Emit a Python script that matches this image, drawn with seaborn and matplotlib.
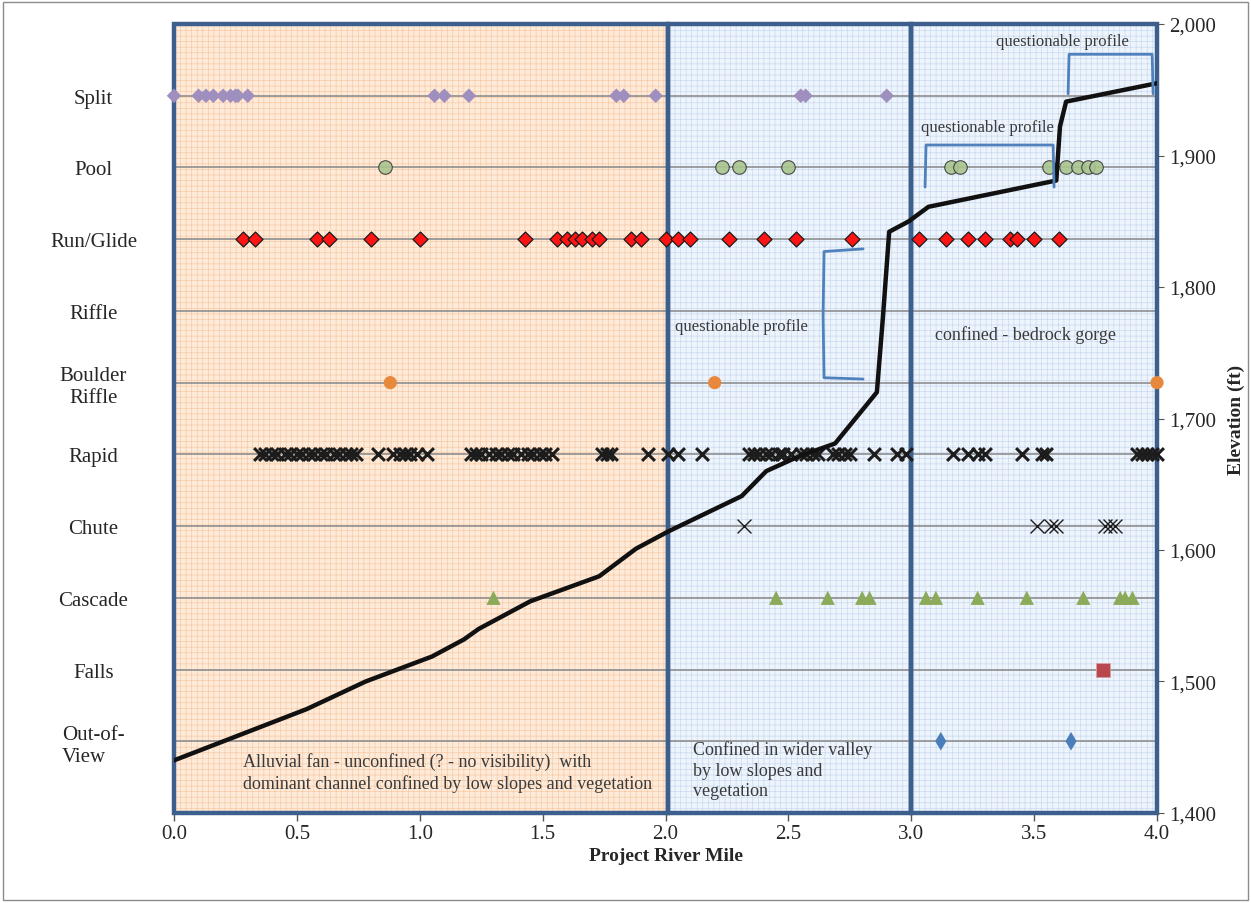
import matplotlib
matplotlib.use("Agg")
import matplotlib.pyplot as plt
from matplotlib.patches import Rectangle
from matplotlib.ticker import FuncFormatter
import pandas as pd
import seaborn as sns

# habitat rows (bottom -> top) and where each unit was mapped (project river mile)
categories = ["Out-of-View", "Falls", "Cascade", "Chute", "Rapid",
              "Boulder Riffle", "Riffle", "Run/Glide", "Pool", "Split"]
cat_labels = ["Out-of-\nView", "Falls", "Cascade", "Chute", "Rapid",
              "Boulder\nRiffle", "Riffle", "Run/Glide", "Pool", "Split"]

split_mi = [0.00, 0.10, 0.13, 0.16, 0.20, 0.23, 0.25, 0.26, 0.30, 1.06, 1.10, 1.20,
            1.80, 1.83, 1.96, 2.55, 2.57, 2.90]
pool_mi = [0.86, 2.23, 2.30, 2.50, 3.16, 3.20, 3.56, 3.63, 3.68, 3.72, 3.75]
run_mi = [0.28, 0.33, 0.58, 0.63, 0.80, 1.00, 1.43, 1.56, 1.60, 1.63, 1.66, 1.70, 1.73,
          1.86, 1.90, 2.00, 2.05, 2.10, 2.26, 2.40, 2.53, 2.76, 3.03, 3.14, 3.23, 3.30,
          3.40, 3.43, 3.50, 3.60]
riffle_mi = []
boulder_mi = [0.88, 2.20, 4.00]
rapid_mi = [0.35, 0.37, 0.40, 0.42, 0.45, 0.47, 0.50, 0.52, 0.55, 0.57, 0.60, 0.62, 0.65,
            0.67, 0.70, 0.72, 0.74, 0.83, 0.89, 0.92, 0.94, 0.96, 0.99, 1.03, 1.21, 1.23,
            1.25, 1.28, 1.31, 1.33, 1.36, 1.38, 1.41, 1.44, 1.46, 1.49, 1.51, 1.54, 1.74,
            1.76, 1.78, 1.93, 2.01, 2.05, 2.15, 2.34, 2.36, 2.38, 2.41, 2.43, 2.46, 2.48,
            2.51, 2.55, 2.57, 2.60, 2.62, 2.68, 2.70, 2.73, 2.75, 2.85, 2.94, 2.98, 3.17,
            3.23, 3.27, 3.30, 3.45, 3.53, 3.55, 3.92, 3.94, 3.96, 3.98, 4.00]
chute_mi = [2.32, 3.51, 3.57, 3.59, 3.79, 3.81, 3.83]
cascade_mi = [1.30, 2.45, 2.66, 2.80, 2.83, 3.06, 3.10, 3.27, 3.47, 3.70, 3.85, 3.87, 3.90]
falls_mi = [3.78]
oov_mi = [3.12, 3.65]

# channel profile (right axis)
elev_mi = [0.00, 0.54, 0.78, 1.05, 1.18, 1.24, 1.45, 1.73, 1.88, 2.01, 2.31, 2.41, 2.54,
           2.69, 2.86, 2.885, 2.91, 2.99, 3.07, 3.59, 3.605, 3.63, 4.00]
elev_ft = [1440, 1479, 1500, 1519, 1532, 1540, 1561, 1580, 1601, 1614, 1641, 1660, 1671,
           1681, 1720, 1778, 1842, 1850, 1861, 1881, 1922, 1941, 1955]

# valley confinement reaches
region_edges = [0.0, 2.01, 3.0, 4.0]

sns.set_style("white")
plt.rcParams["font.family"] = ["Liberation Serif", "DejaVu Serif"]
plt.rcParams["hatch.linewidth"] = 0.45

fig = plt.figure(figsize=(12.51, 9.04), dpi=100)
ax = fig.add_axes([0.1391, 0.0996, 0.7858, 0.8727])
ax.set_xlim(0, 4)
ax.set_ylim(0, 11)

# reach backgrounds (dotted-grid fills) and heavy borders
fills = [("#FDEAD9", "#F7C8A2"), ("#EEF4FB", "#C6D8EF"), ("#EEF4FB", "#C6D8EF")]
for i, (fc, hc) in enumerate(fills):
    x0, x1 = region_edges[i], region_edges[i + 1]
    ax.add_patch(Rectangle((x0, 0), x1 - x0, 11, facecolor=fc, edgecolor=hc,
                           hatch="+++", linewidth=0, zorder=0))
for i in range(3):
    x0, x1 = region_edges[i], region_edges[i + 1]
    ax.add_patch(Rectangle((x0, 0), x1 - x0, 11, fill=False, edgecolor="#3C5F8E",
                           linewidth=3.2, zorder=4, clip_on=False))

for k in range(1, 11):
    ax.axhline(k, color="#8E8E8E", lw=1.2, zorder=1)

series = [
    (split_mi, "Split", dict(marker="D", s=55, color="#9F8FBE", edgecolor="none")),
    (pool_mi, "Pool", dict(marker="o", s=95, color="#AAC58F", edgecolor="#3a3a3a", linewidth=0.8, alpha=0.9)),
    (run_mi, "Run/Glide", dict(marker="D", s=58, color="#FF1414", edgecolor="#1a1a1a", linewidth=0.9)),
    (riffle_mi, "Riffle", dict(marker="o", s=60, color="#777777")),
    (boulder_mi, "Boulder Riffle", dict(marker="o", s=90, color="#E8883C", edgecolor="none")),
    (rapid_mi, "Rapid", dict(marker="x", s=85, color="#1c1c1c", linewidth=2.2)),
    (chute_mi, "Chute", dict(marker="x", s=100, color="#1c1c1c", linewidth=1.0)),
    (cascade_mi, "Cascade", dict(marker="^", s=105, color="#8CAB5A", edgecolor="none")),
    (falls_mi, "Falls", dict(marker="s", s=95, color="#B8474E", edgecolor="#d9a0a0", linewidth=0.6)),
    (oov_mi, "Out-of-View", dict(marker="d", s=90, color="#4A7EBB", edgecolor="none")),
]
for vals, cat, kw in series:
    if not vals:
        continue
    d = pd.DataFrame({"mile": vals, "row": categories.index(cat) + 1})
    sns.scatterplot(data=d, x="mile", y="row", ax=ax, zorder=5, clip_on=False,
                    legend=False, **kw)

ax.set_yticks(range(1, 11))
ax.set_yticklabels(cat_labels)
ax.tick_params(axis="y", length=0, pad=58, labelsize=15)
for t in ax.get_yticklabels():
    t.set_ha("center")
    t.set_multialignment("center" if t.get_text().startswith("Boulder") else "left")
ax.set_xticks([0, 0.5, 1, 1.5, 2, 2.5, 3, 3.5, 4])
ax.xaxis.set_major_formatter(FuncFormatter(lambda v, p: f"{v:.1f}"))
ax.tick_params(axis="x", direction="out", length=6, width=1, color="#555555",
               labelsize=15, pad=2, bottom=True)
ax.set_xlabel("Project River Mile", fontsize=14, fontweight="bold", labelpad=3)
ax.set_ylabel("")
for sp in ax.spines.values():
    sp.set_visible(False)

# elevation profile on the right axis
ax2 = ax.twinx()
sns.lineplot(x=elev_mi, y=elev_ft, ax=ax2, color="#111111", lw=3.2,
             estimator=None, sort=False, zorder=6)
ax2.set_ylim(1400, 2000)
ax2.set_yticks(range(1400, 2001, 100))
ax2.yaxis.set_major_formatter(FuncFormatter(lambda v, p: f"{int(v):,}"))
ax2.tick_params(axis="y", direction="out", length=5, color="#555555", labelsize=15, pad=4)
ax2.set_ylabel("Elevation (ft)", fontsize=14, fontweight="bold", labelpad=8)
for sp in ax2.spines.values():
    sp.set_visible(False)
ax2.set_xlim(0, 4)

# "questionable profile" brackets and reach notes
bcol = "#4F81BD"
ax2.plot([3.638, 3.642, 3.98, 3.984], [1947, 1977, 1977, 1947], color=bcol, lw=2,
         solid_joinstyle="round", zorder=7)
ax2.plot([3.056, 3.06, 3.577, 3.581], [1876, 1908, 1908, 1876], color=bcol, lw=2,
         solid_joinstyle="round", zorder=7)
ax2.plot([2.804, 2.645, 2.641, 2.645, 2.804], [1829, 1827, 1778, 1731, 1730], color=bcol,
         lw=2, solid_joinstyle="round", zorder=7)

tcol = "#3a3a3a"
ax2.text(3.614, 1987, "questionable profile", ha="center", va="center", fontsize=12, color=tcol)
ax2.text(3.31, 1922, "questionable profile", ha="center", va="center", fontsize=12, color=tcol)
ax2.text(2.307, 1770, "questionable profile", ha="center", va="center", fontsize=12, color=tcol)
ax2.text(3.463, 1764, "confined - bedrock gorge", ha="center", va="center", fontsize=13, color=tcol)
ax2.text(0.28, 1431, "Alluvial fan - unconfined (? - no visibility)  with\n"
         "dominant channel confined by low slopes and vegetation",
         ha="left", va="center", fontsize=13, color=tcol, linespacing=1.25)
ax2.text(2.11, 1433, "Confined in wider valley\nby low slopes and\nvegetation",
         ha="left", va="center", fontsize=13, color=tcol, linespacing=1.25)

fig.patches.append(Rectangle((0.002, 0.003), 0.996, 0.994, transform=fig.transFigure,
                             fill=False, edgecolor="#8C8C8C", linewidth=1))

fig.savefig("out.png", dpi=100)
